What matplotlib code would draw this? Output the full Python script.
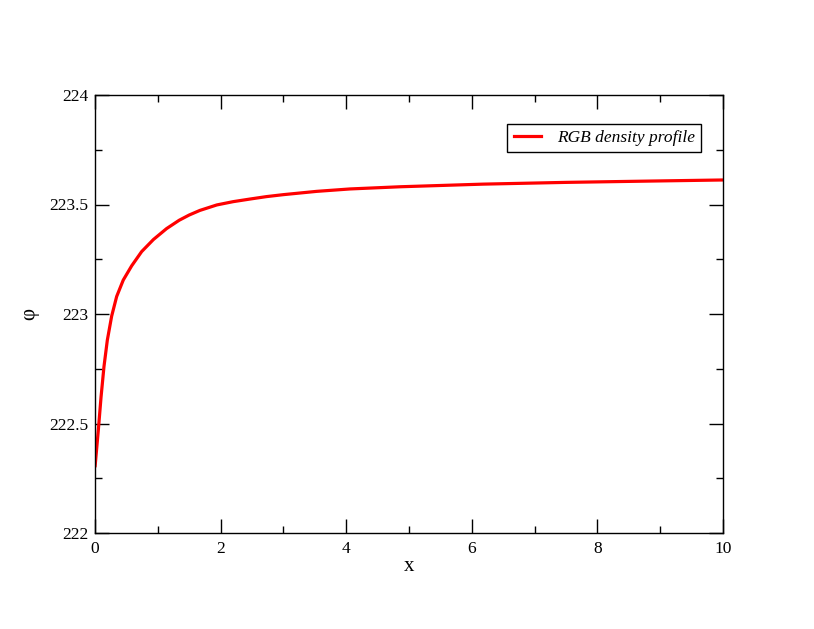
import matplotlib
matplotlib.use("Agg")
import matplotlib.pyplot as plt
from matplotlib.ticker import MultipleLocator
from matplotlib.lines import Line2D

# values
x_vals = [0.0, 0.053, 0.096, 0.143, 0.196, 0.265, 0.345, 0.45, 0.584, 0.743,
          0.93, 1.14, 1.34, 1.5, 1.67, 1.94, 2.2, 2.47, 2.73, 3.0, 3.53,
          4.06, 4.86, 6.18, 7.5, 8.84, 10.0]
phi_vals = [222.30, 222.47, 222.62, 222.76, 222.88, 222.99, 223.08, 223.155,
            223.22, 223.285, 223.34, 223.39, 223.428, 223.452, 223.473,
            223.498, 223.513, 223.525, 223.536, 223.545, 223.56, 223.571,
            223.581, 223.593, 223.601, 223.607, 223.612]

plt.rcParams['font.family'] = ['Liberation Serif', 'DejaVu Serif']

fig = plt.figure(figsize=(8.14, 6.29), dpi=100)
ax = fig.add_axes([95 / 814, 1 - 533 / 629, 628 / 814, 438 / 629])

ax.plot(x_vals, phi_vals, color='red', linewidth=2.3,
        solid_joinstyle='round', solid_capstyle='butt')

ax.set_xlim(0, 10)
ax.set_ylim(222, 224)
ax.xaxis.set_major_locator(MultipleLocator(2))
ax.xaxis.set_minor_locator(MultipleLocator(1))
ax.yaxis.set_major_locator(MultipleLocator(0.5))
ax.yaxis.set_minor_locator(MultipleLocator(0.25))
ax.yaxis.set_major_formatter(plt.FuncFormatter(lambda v, p: f"{v:g}"))
ax.tick_params(which='both', direction='in', top=True, right=True,
               labelsize=12.5, width=1)
ax.tick_params(axis='y', pad=5)
ax.tick_params(axis='x', pad=6)
ax.tick_params(which='major', length=10)
ax.tick_params(which='minor', length=5)
for s in ax.spines.values():
    s.set_linewidth(1)

ax.set_xlabel('x', fontsize=15, labelpad=0)
ax.set_ylabel('φ', fontsize=15, labelpad=7)

leg = ax.legend([Line2D([], [], color='red', linewidth=2.3)],
                ['RGB density profile'], loc='upper right',
                bbox_to_anchor=(701 / 814, 1 - 124 / 629),
                bbox_transform=fig.transFigure,
                prop={'style': 'italic', 'size': 12.5},
                fancybox=False, handlelength=1.6, handletextpad=0.9,
                borderpad=0.35, borderaxespad=0, framealpha=1)
leg.get_frame().set_edgecolor('black')
leg.get_frame().set_linewidth(1)

fig.savefig('out.png', dpi=100)
